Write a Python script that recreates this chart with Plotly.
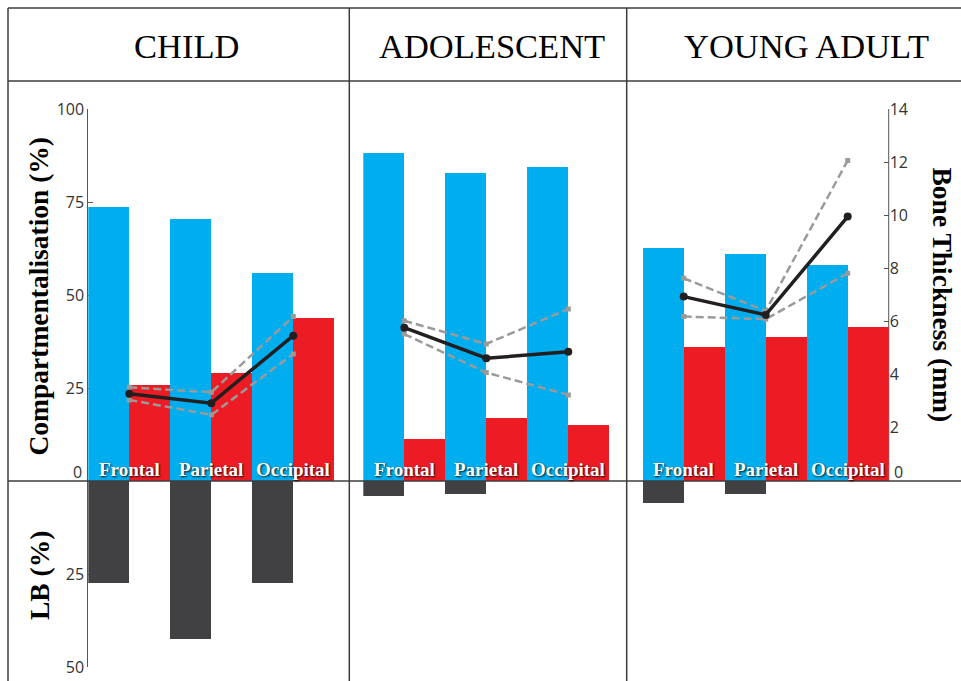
import plotly.graph_objects as go

regions = ["Frontal", "Parietal", "Occipital"]
groups = ["CHILD", "ADOLESCENT", "YOUNG ADULT"]

# Compartmentalisation (%) - blue bars
comp = {
    "CHILD": [73.7, 70.4, 55.8],
    "ADOLESCENT": [88.1, 82.7, 84.4],
    "YOUNG ADULT": [62.6, 60.9, 58.1],
}
# second percentage series - red bars
red_pct = {
    "CHILD": [25.8, 29.1, 43.7],
    "ADOLESCENT": [11.4, 16.9, 15.1],
    "YOUNG ADULT": [36.1, 38.8, 41.5],
}
# LB (%) - dark bars drawn downward
lb_pct = {
    "CHILD": [27.3, 42.6, 27.3],
    "ADOLESCENT": [4.0, 3.6, 0.0],
    "YOUNG ADULT": [6.0, 3.6, 0.0],
}
# Bone thickness (mm): mean, upper, lower
bone_mean = {
    "CHILD": [3.28, 2.93, 5.47],
    "ADOLESCENT": [5.77, 4.62, 4.86],
    "YOUNG ADULT": [6.94, 6.25, 9.95],
}
bone_upper = {
    "CHILD": [3.53, 3.34, 6.19],
    "ADOLESCENT": [6.03, 5.16, 6.47],
    "YOUNG ADULT": [7.63, 6.40, 12.06],
}
bone_lower = {
    "CHILD": [3.05, 2.49, 4.78],
    "ADOLESCENT": [5.53, 4.08, 3.24],
    "YOUNG ADULT": [6.19, 6.09, 7.82],
}

left_tickvals = [100, 75, 50, 25, -25, -50]
left_ticktext = ["100", "75", "50", "25", "25", "50"]
right_tickvals = [2, 4, 6, 8, 10, 12, 14]

BLUE = "#00aeef"
RED = "#ed1c24"
DARK = "#414042"
GRAY = "#9a9a9a"
BLACK = "#231f20"
FRAME = "#3c3c3c"

W, H = 961, 681
T, B = 109, 14
PH = H - T - B


def px(x):
    return x / W


def py(y):
    return (H - B - y) / PH


xaxes = ["x", "x2", "x3"]
fig = go.Figure()

for g, xa in zip(groups, xaxes):
    fig.add_trace(go.Bar(x=regions, y=comp[g], xaxis=xa, yaxis="y",
                         marker=dict(color=BLUE, line=dict(width=0)),
                         width=0.5, offset=-0.5, showlegend=False, hoverinfo="skip"))
    fig.add_trace(go.Bar(x=regions, y=red_pct[g], xaxis=xa, yaxis="y",
                         marker=dict(color=RED, line=dict(width=0)),
                         width=0.5, offset=0.0, showlegend=False, hoverinfo="skip"))
    fig.add_trace(go.Bar(x=regions, y=[-v for v in lb_pct[g]], xaxis=xa, yaxis="y",
                         marker=dict(color=DARK, line=dict(width=0)),
                         width=0.5, offset=-0.5, showlegend=False, hoverinfo="skip"))

for g, xa in zip(groups, xaxes):
    for series in (bone_upper, bone_lower):
        fig.add_trace(go.Scatter(x=regions, y=series[g], xaxis=xa, yaxis="y2",
                                 mode="lines+markers",
                                 line=dict(color=GRAY, width=2.5, dash="8px,4px"),
                                 marker=dict(symbol="square", size=5, color=GRAY),
                                 showlegend=False, hoverinfo="skip"))
    fig.add_trace(go.Scatter(x=regions, y=bone_mean[g], xaxis=xa, yaxis="y2",
                             mode="lines+markers",
                             line=dict(color=BLACK, width=3.5),
                             marker=dict(symbol="circle", size=8, color=BLACK),
                             showlegend=False, hoverinfo="skip"))

domains = [[88.3, 334.3], [363.3, 609.3], [642.7, 888.7]]
xa_common = dict(type="category", categoryorder="array", categoryarray=regions,
                 range=[-0.5, 2.5], showticklabels=False, showline=False,
                 showgrid=False, zeroline=False, ticks="", anchor="y", fixedrange=True)

tickfont = dict(family="Open Sans", size=16, color="#333333")

fig.update_layout(
    width=W, height=H,
    margin=dict(l=0, r=0, t=T, b=B, pad=0),
    paper_bgcolor="white", plot_bgcolor="rgba(0,0,0,0)",
    barmode="overlay", bargap=0,
    showlegend=False,
    xaxis=dict(domain=[px(domains[0][0]), px(domains[0][1])], **xa_common),
    xaxis2=dict(domain=[px(domains[1][0]), px(domains[1][1])], **xa_common),
    xaxis3=dict(domain=[px(domains[2][0]), px(domains[2][1])], **xa_common),
    yaxis=dict(range=[-50, 100], anchor="x", side="left",
               tickvals=left_tickvals, ticktext=left_ticktext,
               ticks="inside", ticklen=5, tickwidth=1, tickcolor="#555555",
               showline=True, linecolor="#555555", linewidth=1,
               showgrid=False, zeroline=False, layer="below traces",
               tickfont=tickfont, fixedrange=True),
    yaxis2=dict(range=[-7, 14], overlaying="y", anchor="x3", side="right",
                tickvals=right_tickvals,
                ticks="inside", ticklen=5, tickwidth=1, tickcolor="#555555",
                showline=False, showgrid=False, zeroline=False,
                layer="below traces", tickfont=tickfont, fixedrange=True),
)

shapes = []
lw = 1.5
# right axis line (0 to 14 mm)
shapes.append(dict(type="line", xref="paper", yref="y2",
                   x0=px(domains[2][1]), x1=px(domains[2][1]), y0=0, y1=14,
                   line=dict(color="#555555", width=1), layer="below"))
# frame
for (x0, y0, x1, y1) in [
    (8, 8, W, 8),          # top border
    (8, 8, 8, H),          # left border
    (8, 81, W, 81),        # header line
    (349.3, 8, 349.3, H),  # divider 1
    (626.7, 8, 626.7, H),  # divider 2
]:
    shapes.append(dict(type="line", xref="paper", yref="paper",
                       x0=px(x0), x1=px(x1), y0=py(y0), y1=py(y1),
                       line=dict(color=FRAME, width=lw), layer="above"))
# zero line across
shapes.append(dict(type="line", xref="paper", yref="y", x0=px(8), x1=1, y0=0, y1=0,
                   line=dict(color=FRAME, width=lw), layer="above"))

annotations = []
title_x = [186.7, 492.0, 806.7]
for g, tx in zip(groups, title_x):
    annotations.append(dict(text=g, xref="paper", yref="paper", x=px(tx), y=py(46),
                            xanchor="center", yanchor="middle", showarrow=False,
                            font=dict(family="Liberation Serif", size=34.5, color="black")))

labfont = dict(family="Liberation Serif", size=19, color="white",
               shadow="1px 1px 2px rgba(0,0,0,0.85)")
for g, xa in zip(groups, xaxes):
    for r in regions:
        annotations.append(dict(text="<b>%s</b>" % r, xref=xa, yref="y", x=r, y=0,
                                xanchor="center", yanchor="bottom", yshift=-1,
                                showarrow=False, font=labfont))

axis_title_font = dict(family="Liberation Serif", size=27.5, color="black")
annotations.append(dict(text="<b>Compartmentalisation (%)</b>", xref="paper", yref="paper",
                        x=px(38), y=py(296.5), textangle=-90, showarrow=False,
                        xanchor="center", yanchor="middle", font=axis_title_font))
annotations.append(dict(text="<b>LB (%)</b>", xref="paper", yref="paper",
                        x=px(39), y=py(576), textangle=-90, showarrow=False,
                        xanchor="center", yanchor="middle", font=axis_title_font))
annotations.append(dict(text="<b>Bone Thickness (mm)</b>", xref="paper", yref="paper",
                        x=px(942.5), y=py(295), textangle=90, showarrow=False,
                        xanchor="center", yanchor="middle", font=axis_title_font))
# zero tick labels (raised above the baseline line)
annotations.append(dict(text="0", xref="paper", yref="y", x=px(84), y=0, yshift=9,
                        xanchor="right", yanchor="middle", showarrow=False, font=tickfont))
annotations.append(dict(text="0", xref="paper", yref="y2", x=px(892), y=0, yshift=9,
                        xanchor="left", yanchor="middle", showarrow=False, font=tickfont))

fig.update_layout(shapes=shapes, annotations=annotations)
fig.write_html("out.html")
